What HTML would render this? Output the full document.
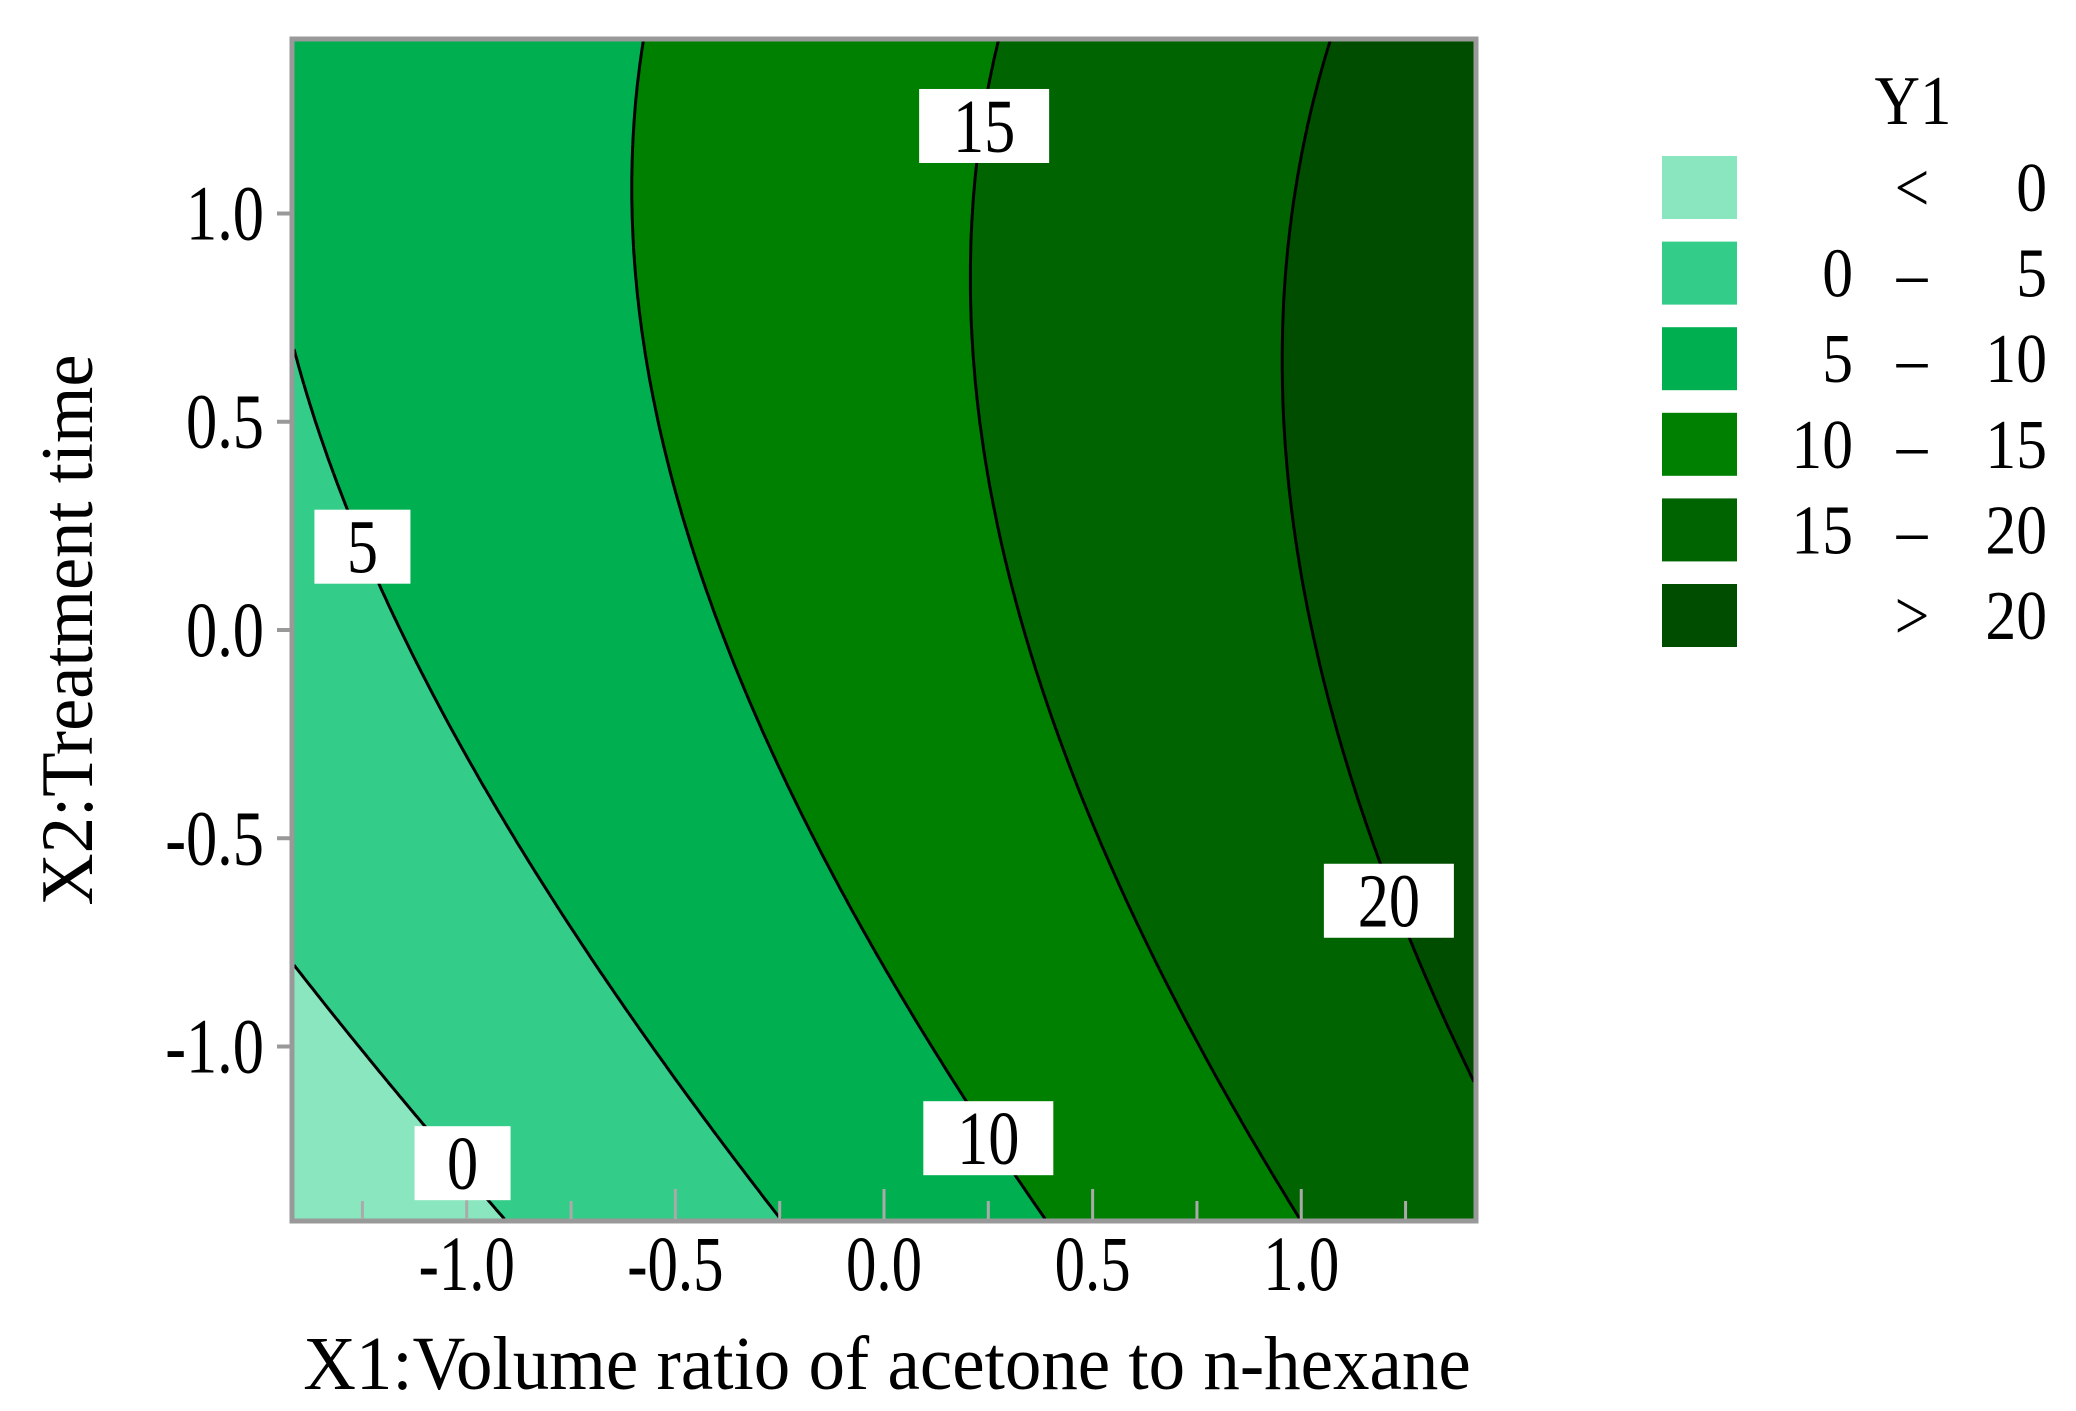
<!DOCTYPE html>
<html><head><meta charset="utf-8"><style>
html,body{margin:0;padding:0;background:#fff;}
#wrap{position:relative;width:2076px;height:1411px;overflow:hidden;font-family:"Liberation Serif",serif;color:#000;}
canvas{position:absolute;left:0;top:0;}
</style></head><body>
<div id="wrap">
<canvas id="cv" width="2076" height="1411"></canvas>
<svg id="ov" width="2076" height="1411" style="position:absolute;left:0;top:0"></svg>
</div>
<script>
// Response-surface coefficients [b0, b1(x1), b2(x2), b11, b22, b12]
const coeffs = [12.66, 6.9, 2.27, 0.25, -1.26, -0.67];
const levels = [0, 5, 10, 15, 20];
const levelColors = ["#8ae6bf","#33cc88","#00b050","#008000","#006400","#004d00"];
const legendLabels = [["","<","0"],["0","\u2013","5"],["5","\u2013","10"],["10","\u2013","15"],["15","\u2013","20"],["",">","20"]];
const xTicks = [-1.0,-0.5,0.0,0.5,1.0];
const yTicks = [-1.0,-0.5,0.0,0.5,1.0];
// [level, x1, x2]
const contourLabels = [[0,-1.01,-1.28],[5,-1.25,0.20],[10,0.25,-1.22],[15,0.24,1.21],[20,1.21,-0.65]];
const xMin=-1.414,xMax=1.414,yMin=-1.414,yMax=1.414;

const PL=294,PR=1474,PT=41,PB=1219;
const sx=v=>PL+(v-xMin)/(xMax-xMin)*(PR-PL);
const sy=v=>PB-(v-yMin)/(yMax-yMin)*(PB-PT);
const ix=p=>xMin+(p-PL)/(PR-PL)*(xMax-xMin);
const iy=p=>yMin+(PB-p)/(PB-PT)*(yMax-yMin);
function f(x,y){const c=coeffs;return c[0]+c[1]*x+c[2]*y+c[3]*x*x+c[4]*y*y+c[5]*x*y;}
function band(v){let i=0;while(i<levels.length&&v>=levels[i])i++;return i;}

const cv=document.getElementById('cv');const ctx=cv.getContext('2d');
const W=PR-PL,H=PB-PT;const img=ctx.createImageData(W,H);
const rgb=levelColors.map(h=>[parseInt(h.substr(1,2),16),parseInt(h.substr(3,2),16),parseInt(h.substr(5,2),16)]);
for(let j=0;j<H;j++){const y=iy(PT+j+0.5);for(let i=0;i<W;i++){const c=rgb[band(f(ix(PL+i+0.5),y))];const k=(j*W+i)*4;img.data[k]=c[0];img.data[k+1]=c[1];img.data[k+2]=c[2];img.data[k+3]=255;}}
ctx.putImageData(img,PL,PT);

const NS="http://www.w3.org/2000/svg";const ov=document.getElementById('ov');
function el(t,a){const e=document.createElementNS(NS,t);for(const k in a)e.setAttribute(k,a[k]);ov.appendChild(e);return e;}
const N=240;
levels.forEach(L=>{
  let d="";
  for(let a=0;a<N;a++)for(let b=0;b<N;b++){
    const x0=xMin+(xMax-xMin)*a/N,x1=xMin+(xMax-xMin)*(a+1)/N,y0=yMin+(yMax-yMin)*b/N,y1=yMin+(yMax-yMin)*(b+1)/N;
    const v=[f(x0,y0),f(x1,y0),f(x1,y1),f(x0,y1)];const P=[[x0,y0],[x1,y0],[x1,y1],[x0,y1]];
    const pts=[];
    for(let e=0;e<4;e++){const p=v[e]-L,q=v[(e+1)%4]-L;if((p<0)!==(q<0)){const t=p/(p-q);const A=P[e],B=P[(e+1)%4];pts.push([A[0]+t*(B[0]-A[0]),A[1]+t*(B[1]-A[1])]);}}
    if(pts.length>=2)d+="M"+sx(pts[0][0]).toFixed(1)+" "+sy(pts[0][1]).toFixed(1)+"L"+sx(pts[1][0]).toFixed(1)+" "+sy(pts[1][1]).toFixed(1);
  }
  const p=el('path',{d:d,stroke:'#000','stroke-width':3,fill:'none'});
  
  
});
const fr=el('rect',{x:PL-2,y:PT-2,width:PR-PL+4,height:PB-PT+4,fill:'none',stroke:'#999','stroke-width':5});


for(let v=-1.25;v<=1.26;v+=0.25){const t=el('line',{x1:sx(v),x2:sx(v),y1:PB,y2:PB-(Math.abs(v*2-Math.round(v*2))<1e-6?30:18),stroke:'#aaa','stroke-width':3});

}
function sc(x,s){return 'translate('+x+',0) scale('+s+',1) translate('+(-x)+',0)';}
xTicks.forEach(v=>{const t=el('text',{x:sx(v),y:1290,'font-size':78,'text-anchor':'middle','font-family':'Liberation Serif, serif',transform:sc(sx(v),0.78)});t.textContent=v.toFixed(1);

});
yTicks.forEach(v=>{const tk=el('line',{x1:277,x2:PL,y1:sy(v),y2:sy(v),stroke:'#999','stroke-width':4});


const t=el('text',{x:264,y:sy(v)+26,'font-size':78,'text-anchor':'end','font-family':'Liberation Serif, serif',transform:sc(264,0.8)});t.textContent=v.toFixed(1);

});
const xt=el('text',{x:887,y:1389,'font-size':76,'text-anchor':'middle','font-family':'Liberation Serif, serif',transform:sc(887,0.96)});xt.textContent='X1:Volume ratio of acetone to n-hexane';


const yt=el('text',{x:0,y:0,'font-size':74,'text-anchor':'middle','font-family':'Liberation Serif, serif',transform:'translate(92,630) rotate(-90) scale(0.98,1)'});yt.textContent='X2:Treatment time';


contourLabels.forEach(c=>{const txt=String(c[0]);const w=txt.length>1?130:96,h=74;const cx=sx(c[1]),cy=sy(c[2]);
const r=el('rect',{x:cx-w/2,y:cy-h/2,width:w,height:h,fill:'#fff'});


const t=el('text',{x:cx,y:cy+26,'font-size':76,'text-anchor':'middle','font-family':'Liberation Serif, serif',transform:sc(cx,0.82)});t.textContent=txt;

});
const lt=el('text',{x:1913,y:124,'font-size':70,'text-anchor':'middle','font-family':'Liberation Serif, serif',transform:sc(1913,0.9)});lt.textContent='Y1';


levelColors.forEach((col,i)=>{const y=156+i*85.6;
const s=el('rect',{x:1662,y:y,width:75,height:63,fill:col});


const lb=legendLabels[i];const ty=y+55;
[[1853,lb[0]],[1912,lb[1]],[2047,lb[2]]].forEach((p,k)=>{const t=el('text',{x:p[0],y:ty,'font-size':70,'text-anchor':k==1?'middle':'end','font-family':'Liberation Serif, serif',transform:sc(p[0],0.88)});t.textContent=p[1];

});
});
</script>
</body></html>
